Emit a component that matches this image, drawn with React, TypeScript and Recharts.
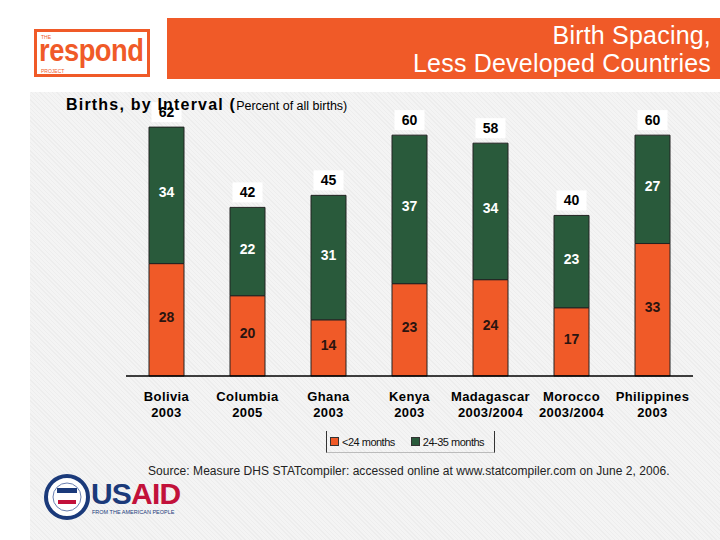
import { BarChart, Bar, XAxis, YAxis, LabelList } from "recharts"

const countries = ["Bolivia", "Columbia", "Ghana", "Kenya", "Madagascar", "Morocco", "Philippines"]
const surveyYears = ["2003", "2005", "2003", "2003", "2003/2004", "2003/2004", "2003"]
const under24 = [28, 20, 14, 23, 24, 17, 33]
const from24to35 = [34, 22, 31, 37, 34, 23, 27]
const totals = [62, 42, 45, 60, 58, 40, 60]

const ORANGE = "#F05A28"
const GREEN = "#295A3B"
const FONT = "'Liberation Sans', Arial, sans-serif"

const data = countries.map((c, i) => ({
  country: c,
  year: surveyYears[i],
  under24: under24[i],
  from24to35: from24to35[i],
  total: totals[i],
}))

function SegLabel(props: any) {
  const { x, y, width, height, value, color } = props
  return (
    <text
      x={x + width / 2}
      y={y + height / 2 - 3}
      textAnchor="middle"
      dominantBaseline="central"
      fill={color}
      fontFamily={FONT}
      fontWeight="bold"
      fontSize={14}
    >
      {value}
    </text>
  )
}

function TotalLabel(props: any) {
  const { x, y, width, value } = props
  const cx = x + width / 2
  const cy = y - 15
  return (
    <g>
      <rect x={cx - 15} y={cy - 10} width={30} height={20} fill="#ffffff" />
      <text
        x={cx}
        y={cy}
        textAnchor="middle"
        dominantBaseline="central"
        fill="#000"
        fontFamily={FONT}
        fontWeight="bold"
        fontSize={14}
      >
        {value}
      </text>
    </g>
  )
}

function CountryTick(props: any) {
  const { x, y, payload, index } = props
  return (
    <g>
      <text x={x} y={y + 17} textAnchor="middle" fontFamily={FONT} fontWeight="bold" fontSize={13} letterSpacing={0.4} fill="#000">
        {payload.value}
      </text>
      <text x={x} y={y + 33} textAnchor="middle" fontFamily={FONT} fontWeight="bold" fontSize={13} letterSpacing={0.4} fill="#000">
        {surveyYears[index]}
      </text>
    </g>
  )
}

export default function App() {
  return (
    <div
      style={{
        position: "absolute",
        left: 0,
        top: 0,
        width: 720,
        height: 540,
        background: "#ffffff",
        overflow: "hidden",
        fontFamily: FONT,
      }}
    >
      {/* grey panel */}
      <div
        style={{
          position: "absolute",
          left: 30,
          top: 92,
          width: 690,
          height: 448,
          background:
            "repeating-linear-gradient(45deg, #f4f4f4 0px, #f4f4f4 2px, #ededed 2px, #ededed 3px)",
        }}
      />
      {/* header bar */}
      <div style={{ position: "absolute", left: 167, top: 18, width: 553, height: 61, background: ORANGE }} />
      <div
        style={{
          position: "absolute",
          right: 9,
          top: 21,
          textAlign: "right",
          color: "#fff",
          fontSize: 25,
          letterSpacing: 0.2,
          lineHeight: "28px",
          whiteSpace: "nowrap",
        }}
      >
        Birth Spacing,
        <br />
        Less Developed Countries
      </div>
      {/* logo */}
      <div
        style={{
          position: "absolute",
          left: 34,
          top: 29,
          width: 116,
          height: 48,
          border: `3px solid ${ORANGE}`,
          boxSizing: "border-box",
          color: ORANGE,
        }}
      >
        <div style={{ position: "absolute", left: 4, top: 3, fontSize: 5, lineHeight: "5px" }}>THE</div>
        <div
          style={{
            position: "absolute",
            left: 2,
            top: 8,
            fontSize: 31,
            fontWeight: "bold",
            lineHeight: "22px",
            whiteSpace: "nowrap",
            transform: "scaleX(0.88)",
            transformOrigin: "left top",
            letterSpacing: -0.5,
          }}
        >
          respond
        </div>
        <div style={{ position: "absolute", left: 4, top: 37, fontSize: 5, lineHeight: "5px" }}>PROJECT</div>
      </div>

      <BarChart
        width={720}
        height={540}
        data={data}
        margin={{ top: 95, right: 27, left: 126, bottom: 124 }}
        barSize={35}
        style={{ position: "absolute", left: 0, top: 0 }}
      >
        <XAxis
          dataKey="country"
          axisLine={{ stroke: "#000", strokeWidth: 1.5 }}
          tickLine={false}
          height={40}
          interval={0}
          tick={<CountryTick />}
        />
        <YAxis hide domain={[0, 70]} />
        <Bar dataKey="under24" stackId="a" fill={ORANGE} stroke="#222" strokeWidth={1} isAnimationActive={false}>
          <LabelList dataKey="under24" content={<SegLabel color="#2a1410" />} />
        </Bar>
        <Bar dataKey="from24to35" stackId="a" fill={GREEN} stroke="#222" strokeWidth={1} isAnimationActive={false}>
          <LabelList dataKey="from24to35" content={<SegLabel color="#ffffff" />} />
          <LabelList dataKey="total" content={<TotalLabel />} />
        </Bar>
      </BarChart>

      {/* chart title */}
      <div style={{ position: "absolute", left: 66, top: 96, color: "#000", whiteSpace: "nowrap" }}>
        <span style={{ fontSize: 16, fontWeight: "bold", letterSpacing: 1.2 }}>Births, by Interval (</span>
        <span style={{ fontSize: 12.5 }}>Percent of all births)</span>
      </div>

      {/* legend */}
      <div
        style={{
          position: "absolute",
          left: 326,
          top: 431,
          width: 169,
          height: 22,
          borderLeft: "1px solid #333",
          borderRight: "1px solid #333",
          borderBottom: "1px solid #bbb",
          boxSizing: "border-box",
          display: "flex",
          alignItems: "center",
          fontSize: 11,
          letterSpacing: -0.5,
          color: "#111",
          whiteSpace: "nowrap",
        }}
      >
        <span style={{ display: "inline-block", width: 7, height: 7, background: ORANGE, border: "1px solid #333", marginLeft: 3, marginRight: 3 }} />
        &lt;24 months
        <span style={{ display: "inline-block", width: 7, height: 7, background: GREEN, border: "1px solid #333", marginLeft: 16, marginRight: 3 }} />
        24-35 months
      </div>

      {/* source */}
      <div style={{ position: "absolute", left: 148, top: 464, fontSize: 12, color: "#222", whiteSpace: "nowrap", letterSpacing: 0.05 }}>
        Source: Measure DHS STATcompiler: accessed online at www.statcompiler.com on June 2, 2006.
      </div>

      {/* USAID logo */}
      <svg style={{ position: "absolute", left: 40, top: 472 }} width={150} height={55}>
        <circle cx={27} cy={25} r={21} fill="#fff" stroke="#1b3a7a" strokeWidth={4} />
        <circle cx={27} cy={25} r={14} fill="#fff" stroke="#6a7fb0" strokeWidth={1} />
        <rect x={17} y={16} width={20} height={5} fill="#1b3a7a" />
        <rect x={18} y={28} width={18} height={4} fill="#c2113a" />
        <text x={51} y={32} fontFamily={FONT} fontWeight="bold" fontSize={30} letterSpacing={-0.8}>
          <tspan fill="#1b3a7a">US</tspan>
          <tspan fill="#c2113a">AID</tspan>
        </text>
        <text x={52} y={42} fontFamily={FONT} fontSize={5.5} fill="#1b3a7a">
          FROM THE AMERICAN PEOPLE
        </text>
      </svg>
    </div>
  )
}
